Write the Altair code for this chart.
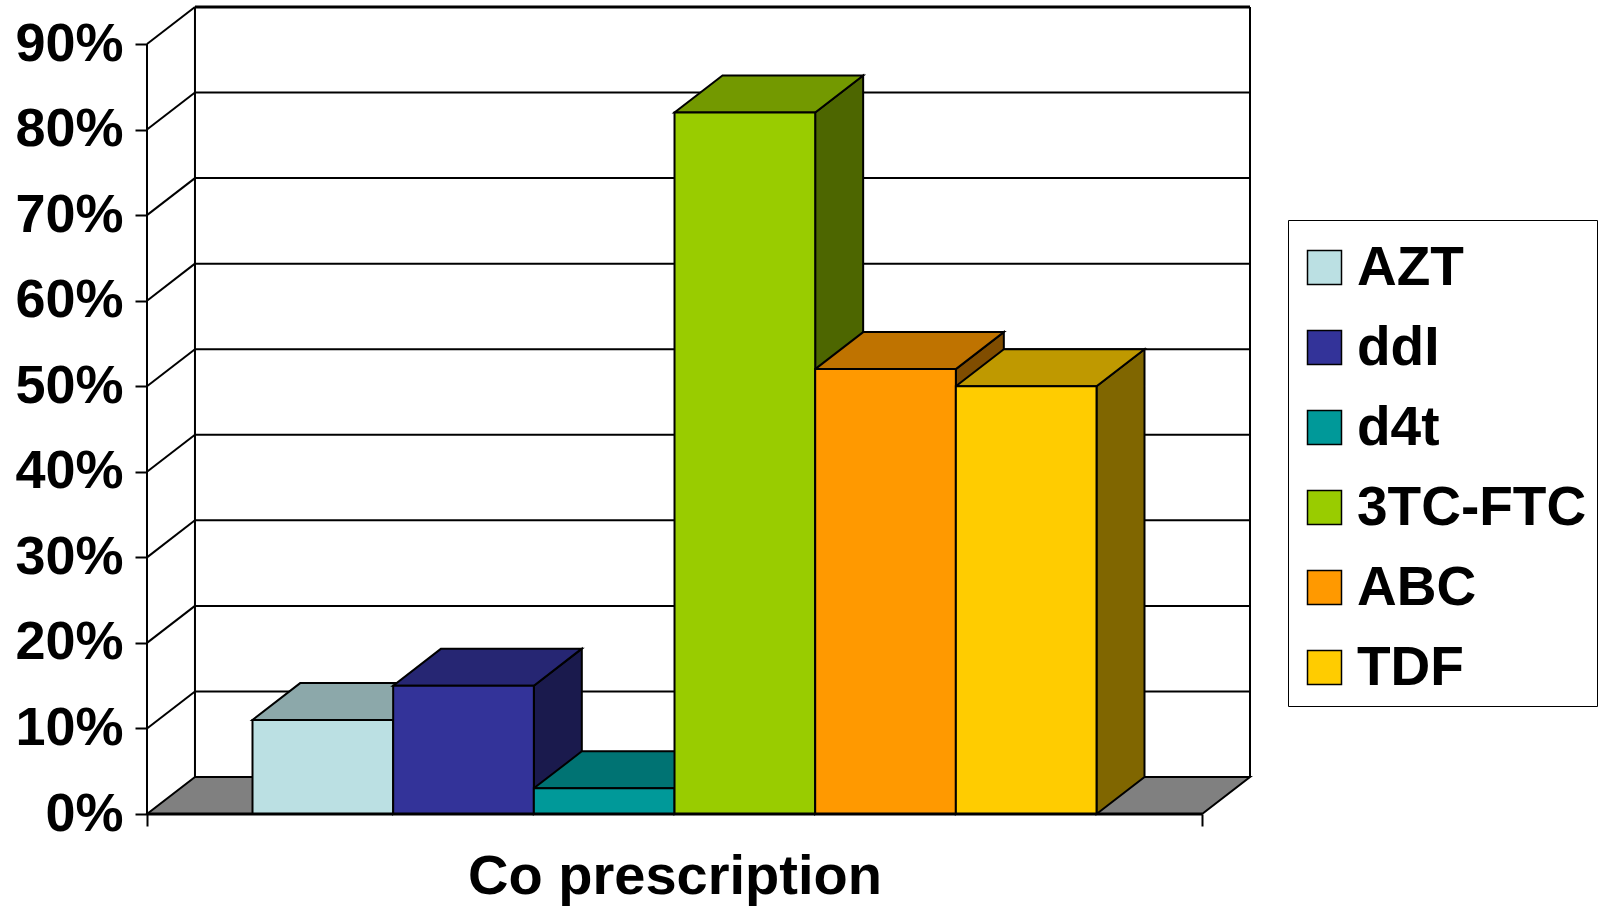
import altair as alt
import pandas as pd

# --- data -------------------------------------------------------------
drugs = ["AZT", "ddI", "d4t", "3TC-FTC", "ABC", "TDF"]
shares = [11, 15, 3, 82, 52, 50]          # % of co-prescriptions
y_ticks = [0, 10, 20, 30, 40, 50, 60, 70, 80, 90]

# --- styling ----------------------------------------------------------
front_colors = ["#BBE0E3", "#333399", "#009999", "#99CC00", "#FF9900", "#FFCC00"]
top_colors = ["#8CA8AA", "#262673", "#007373", "#739900", "#BF7300", "#BF9900"]
side_colors = ["#5E7072", "#1A1A4D", "#004D4D", "#4D6600", "#804D00", "#806600"]
FONT = "Liberation Sans"

# 3-D geometry in data units: gap on each side of the bar group and depth offset
GAP = 0.75
DX = 0.341
DY = 4.325
X_LO = -GAP
X_HI = len(drugs) + GAP
Y_TOP = y_ticks[-1]

xs = alt.Scale(domain=[X_LO, X_HI + DX], nice=False, zero=False)
ys = alt.Scale(domain=[0, Y_TOP + DY], nice=False, zero=False)

# shared axis definitions (identical in every layer so they merge cleanly)
x_axis = alt.Axis(
    values=[X_LO, X_HI],
    labels=False,
    domain=False,
    grid=False,
    tickSize=12,
    tickWidth=2,
    tickColor="black",
    title="Co prescription",
    titleFont=FONT,
    titleFontSize=56,
    titleFontWeight="bold",
    titleColor="black",
    titleX=527.5,
    titleY=79,
    titleAlign="center",
    titleBaseline="alphabetic",
)
y_axis = alt.Axis(
    values=y_ticks,
    labelExpr="datum.value + '%'",
    domain=False,
    grid=False,
    tickSize=12,
    tickWidth=2,
    tickColor="black",
    labelFont=FONT,
    labelFontSize=54,
    labelFontWeight="bold",
    labelColor="black",
    labelPadding=12,
    labelBaseline="middle",
    title=None,
)


def X(field, **kw):
    return alt.X(field, scale=xs, axis=x_axis, **kw)


def Y(field, **kw):
    return alt.Y(field, scale=ys, axis=y_axis, **kw)


# --- derived tables ---------------------------------------------------
front = pd.DataFrame({
    "drug": drugs,
    "x0": [i for i in range(len(drugs))],
    "x1": [i + 1 for i in range(len(drugs))],
    "v": shares,
    "zero": [0] * len(drugs),
})

top_rows, side_rows = [], []
for i, (d, v) in enumerate(zip(drugs, shares)):
    top_rows.append({"drug": d, "y": v, "xa": i, "xb": i + 1})
    top_rows.append({"drug": d, "y": v + DY, "xa": i + DX, "xb": i + 1 + DX})
    side_rows.append({"drug": d, "x": i + 1, "ya": 0, "yb": v})
    side_rows.append({"drug": d, "x": i + 1 + DX, "ya": DY, "yb": v + DY})
tops = pd.DataFrame(top_rows)
sides = pd.DataFrame(side_rows)

grid = pd.DataFrame({"v": y_ticks[1:]})
grid["yb"] = grid["v"] + DY
grid["xl"] = X_LO
grid["xw"] = X_LO + DX
grid["xr"] = X_HI + DX

walls = pd.DataFrame({"x": [X_LO + DX, X_HI + DX], "y0": [DY, DY], "y1": [Y_TOP + DY, Y_TOP + DY]})

floor = pd.DataFrame({"y": [0, DY], "xa": [X_LO, X_LO + DX], "xb": [X_HI, X_HI + DX]})

base = pd.DataFrame({"xa": [X_LO], "xb": [X_HI], "y": [0], "ytop": [Y_TOP]})

# --- layers -----------------------------------------------------------
back_grid = alt.Chart(grid).mark_rule(color="black", strokeWidth=2).encode(
    x=X("xw:Q"), x2="xr:Q", y=Y("yb:Q"),
)

side_grid = alt.Chart(grid).mark_rule(color="black", strokeWidth=2).encode(
    x=X("xl:Q"), x2="xw:Q", y=Y("v:Q"), y2="yb:Q",
)

top_edge = alt.Chart(grid).transform_filter(alt.datum.v == Y_TOP).mark_rule(
    color="black", strokeWidth=3
).encode(
    x=X("xw:Q"), x2="xr:Q", y=Y("yb:Q"),
)

wall_edges = alt.Chart(walls).mark_rule(color="black", strokeWidth=2).encode(
    x=X("x:Q"), y=Y("y0:Q"), y2="y1:Q",
)

floor_layer = alt.Chart(floor).mark_area(
    orient="horizontal", fill="#808080", stroke="black", strokeWidth=2, opacity=1
).encode(
    y=Y("y:Q"), x=X("xa:Q", stack=None), x2="xb:Q",
)

side_layer = alt.Chart(sides).mark_area(
    orient="vertical", stroke="black", strokeWidth=2, opacity=1
).encode(
    x=X("x:Q"),
    y=Y("ya:Q", stack=None),
    y2="yb:Q",
    color=alt.Color("drug:N", scale=alt.Scale(domain=drugs, range=side_colors), legend=None),
)

top_layer = alt.Chart(tops).mark_area(
    orient="horizontal", stroke="black", strokeWidth=2, opacity=1
).encode(
    y=Y("y:Q"),
    x=X("xa:Q", stack=None),
    x2="xb:Q",
    color=alt.Color("drug:N", scale=alt.Scale(domain=drugs, range=top_colors), legend=None),
)

front_layer = alt.Chart(front).mark_rect(stroke="black", strokeWidth=2, opacity=1).encode(
    x=X("x0:Q"),
    x2="x1:Q",
    y=Y("v:Q"),
    y2="zero:Q",
    color=alt.Color(
        "drug:N",
        scale=alt.Scale(domain=drugs, range=front_colors),
        sort=drugs,
        legend=alt.Legend(
            title=" ",
            titleFontSize=1,
            titlePadding=9,
            orient="none",
            legendX=1141,
            legendY=213,
            direction="vertical",
            symbolType="square",
            symbolSize=1156,
            symbolStrokeColor="black",
            symbolStrokeWidth=1.5,
            symbolOpacity=1,
            symbolOffset=-1,
            labelFont=FONT,
            labelFontSize=55,
            labelFontWeight="bold",
            labelColor="black",
            labelOffset=5,
            labelLimit=400,
            rowPadding=24,
            padding=10,
            strokeColor="black",
            fillColor="white",
        ),
    ),
)

front_axis = alt.Chart(base).mark_rule(color="black", strokeWidth=2).encode(
    x=X("xa:Q"), y=Y("y:Q"), y2="ytop:Q",
)

base_line = alt.Chart(base).mark_rule(color="black", strokeWidth=3).encode(
    x=X("xa:Q"), x2="xb:Q", y=Y("y:Q"),
)

chart = alt.layer(
    back_grid,
    side_grid,
    top_edge,
    wall_edges,
    floor_layer,
    side_layer,
    top_layer,
    front_layer,
    front_axis,
    base_line,
).resolve_scale(color="independent").properties(
    width=1103,
    height=807,
    autosize=alt.AutoSizeParams(type="none"),
    padding={"left": 147, "top": 7, "right": 356, "bottom": 94},
    background="white",
).configure_view(stroke=None)

chart.save("out.html", embed_options={"renderer": "svg", "actions": False})
